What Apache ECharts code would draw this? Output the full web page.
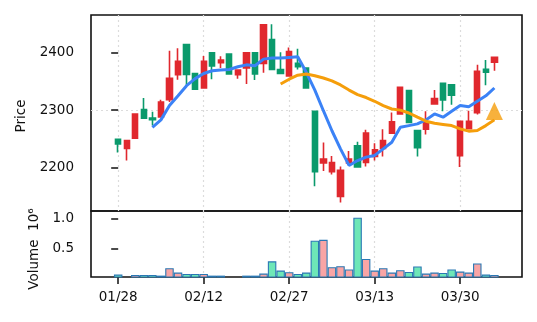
<!DOCTYPE html>
<html><head><meta charset="utf-8">
<script src="https://cdn.jsdelivr.net/npm/echarts@6/dist/echarts.min.js"></script>
<style>html,body{margin:0;padding:0;background:#fff}#c{width:537px;height:322px}</style>
</head><body><div id="c"></div>
<script>
// ---- data ----
const xTickIdx = [0, 10, 20, 30, 40];
const xTickLabels = ['01/28', '02/12', '02/27', '03/13', '03/30'];
const priceTicks = [2200, 2300, 2400];
const volTicks = [0.5, 1.0];

const opens  = [2249,2233,2251,2301,2286,2288,2318,2362,2414.6,2364,2338.6,2400,2382.6,2397.7,2361.7,2373.4,2400,2381.6,2423.3,2371,2359.5,2381.6,2373.4,2298,2207.7,2192.5,2149.6,2207.7,2237.8,2208.7,2219,2233,2259.8,2293.4,2334,2264.4,2266.8,2310.8,2346.8,2344.4,2220.4,2267.8,2295.7,2371.1,2383.8];
const closes = [2241,2247,2293,2286,2283.5,2314,2355.5,2385,2362.4,2336.4,2385,2377,2387.3,2363,2370,2400,2363,2448.7,2371,2364.2,2402.4,2375.6,2338.6,2192.5,2214.6,2208.7,2194.8,2214.6,2200.7,2259.8,2230.8,2247,2279.5,2339.8,2278.3,2234.3,2278.3,2320,2317.7,2325.9,2280.7,2280.7,2367.7,2366.4,2392];
const lows   = [2226,2212,2251,2286,2273,2288,2314,2353,2342.6,2336.4,2338.6,2353.7,2373.4,2363,2354.8,2345.6,2352.5,2365.2,2371,2364.2,2359.5,2371,2338.6,2167,2193.8,2187.8,2139,2207.7,2200.7,2201.8,2212.2,2219,2259.8,2293.4,2278.3,2219,2257.4,2310.8,2298,2309.6,2200.7,2267.8,2292.2,2343.3,2368.7];
const highs  = [2249,2247,2293,2321,2297,2318,2403.5,2408,2414.6,2364,2394.3,2400,2394,2397.7,2370,2400,2400,2448.7,2450,2401.2,2409.4,2407,2373.4,2298,2243.5,2220,2201.8,2228.5,2244.7,2265.6,2242.4,2266.8,2295.7,2339.8,2334,2264.4,2298,2335.1,2346.8,2344.4,2280.7,2299.1,2379.1,2387.3,2392];
const volumes = [0.069,0.02,0.062,0.062,0.062,0.052,0.175,0.103,0.079,0.079,0.079,0.052,0.052,0.02,0.02,0.052,0.052,0.086,0.288,0.136,0.108,0.079,0.103,0.630,0.646,0.192,0.209,0.153,1.012,0.327,0.136,0.175,0.103,0.141,0.113,0.203,0.086,0.103,0.097,0.153,0.119,0.103,0.254,0.069,0.062];
const ma5Start = 4;
const ma5 = [2270,2283,2308,2325,2342.6,2355,2364,2368.7,2370,2371,2375.6,2379,2377.4,2389,2390.8,2390.8,2392,2393,2366,2335,2299,2264,2232.5,2203.5,2212,2218,2221,2232.5,2244,2270,2273,2276,2283,2293.4,2287.7,2298,2308,2306,2315.5,2325,2338.6];
const ma20Start = 19;
const ma20 = [2345.6,2354,2361,2363,2360,2356,2351,2344,2335,2327,2322,2315.5,2308,2302,2300,2295,2287.7,2280.7,2277,2275,2273,2267.3,2263.3,2264.4,2273,2283];

// ---- styles ----
const RED = '#e0282e', GREEN = '#0a9a6c';
const PINK = '#f9a5a5', MINT = '#6ee7b7', EDGE = '#2a78b4';
const FONT = 'DejaVu Sans';
const FS = 13.5;
const gridLine = { show: true, showMinLine: false, showMaxLine: false, lineStyle: { color: '#dcdcdc', width: 1.2, type: [2, 3] } };

const candleData = opens.map((o, i) => [i, o, closes[i], lows[i], highs[i]]);
const volData = volumes.map((v, i) => ({ value: [i, v], itemStyle: { color: closes[i] >= opens[i] ? PINK : MINT } }));
const ma5Data = ma5.map((v, k) => [k + ma5Start, v]);
const ma20Data = ma20.map((v, k) => [k + ma20Start, v]);
const lastMa20 = ma20Data[ma20Data.length - 1];

const xCommon = { type: 'value', min: -3.18, max: 47.23, splitNumber: 5, axisLine: { show: false }, splitLine: gridLine };

const chart = echarts.init(document.getElementById('c'), null, { renderer: 'canvas' });
chart.setOption({
  animation: false,
  backgroundColor: '#fff',
  grid: [
    { left: 91, top: 15, width: 431, height: 196, show: true, borderColor: '#111', borderWidth: 1.6, backgroundColor: 'transparent' },
    { left: 91, top: 211, width: 431, height: 66, show: true, borderColor: '#111', borderWidth: 1.6, backgroundColor: 'transparent' }
  ],
  xAxis: [
    Object.assign({ gridIndex: 0, axisTick: { show: false }, axisLabel: { show: false } }, xCommon),
    Object.assign({ gridIndex: 1,
      axisTick: { show: true, length: 7, lineStyle: { color: '#111', width: 1.5 }, customValues: xTickIdx },
      axisLabel: { show: true, customValues: xTickIdx, margin: 13, fontSize: FS, fontFamily: FONT, color: '#111',
        formatter: v => { const k = xTickIdx.indexOf(Math.round(v)); return k >= 0 ? xTickLabels[k] : ''; } } }, xCommon)
  ],
  yAxis: [
    { type: 'value', gridIndex: 0, min: 2124, max: 2466, splitNumber: 3, axisLine: { show: false },
      axisTick: { show: true, length: 7, lineStyle: { color: '#111', width: 1.5 }, customValues: priceTicks },
      axisLabel: { customValues: priceTicks, margin: 17, fontSize: FS, fontFamily: FONT, color: '#111', formatter: v => String(Math.round(v)) },
      splitLine: gridLine },
    { type: 'value', gridIndex: 1, min: 0.029, max: 1.123, splitNumber: 2, axisLine: { show: false },
      axisTick: { show: true, length: 7, lineStyle: { color: '#111', width: 1.5 }, customValues: volTicks },
      axisLabel: { customValues: volTicks, margin: 17, fontSize: FS, fontFamily: FONT, color: '#111', formatter: v => v.toFixed(1) },
      splitLine: gridLine }
  ],
  series: [
    { type: 'candlestick', xAxisIndex: 0, yAxisIndex: 0, data: candleData, encode: { x: 0, y: [1, 2, 3, 4] },
      barWidth: 5.8,
      itemStyle: { color: RED, color0: GREEN, borderColor: RED, borderColor0: GREEN, borderWidth: 1.6 } },
    { type: 'line', xAxisIndex: 0, yAxisIndex: 0, data: ma5Data, showSymbol: false, smooth: false,
      lineStyle: { color: '#3b82f6', width: 3 }, z: 3 },
    { type: 'line', xAxisIndex: 0, yAxisIndex: 0, data: ma20Data, showSymbol: false,
      lineStyle: { color: '#f59e0b', width: 3 }, z: 3 },
    { type: 'scatter', xAxisIndex: 0, yAxisIndex: 0, data: [lastMa20], symbol: 'triangle', symbolSize: [17, 18], symbolOffset: [0, -9],
      itemStyle: { color: '#f59e0b' }, z: 4 },
    { type: 'bar', xAxisIndex: 1, yAxisIndex: 1, data: volData, barWidth: 8.5,
      itemStyle: { borderColor: EDGE, borderWidth: 1.1 } }
  ],
  graphic: [
    { type: 'text', x: 21, y: 116, rotation: Math.PI / 2, style: { text: 'Price', font: FS + 'px "DejaVu Sans"', fill: '#111', align: 'center', verticalAlign: 'middle' } },
    { type: 'text', x: 34, y: 249, rotation: Math.PI / 2, style: { text: 'Volume  10⁶', font: FS + 'px "DejaVu Sans"', fill: '#111', align: 'center', verticalAlign: 'middle' } }
  ]
});
</script></body></html>
